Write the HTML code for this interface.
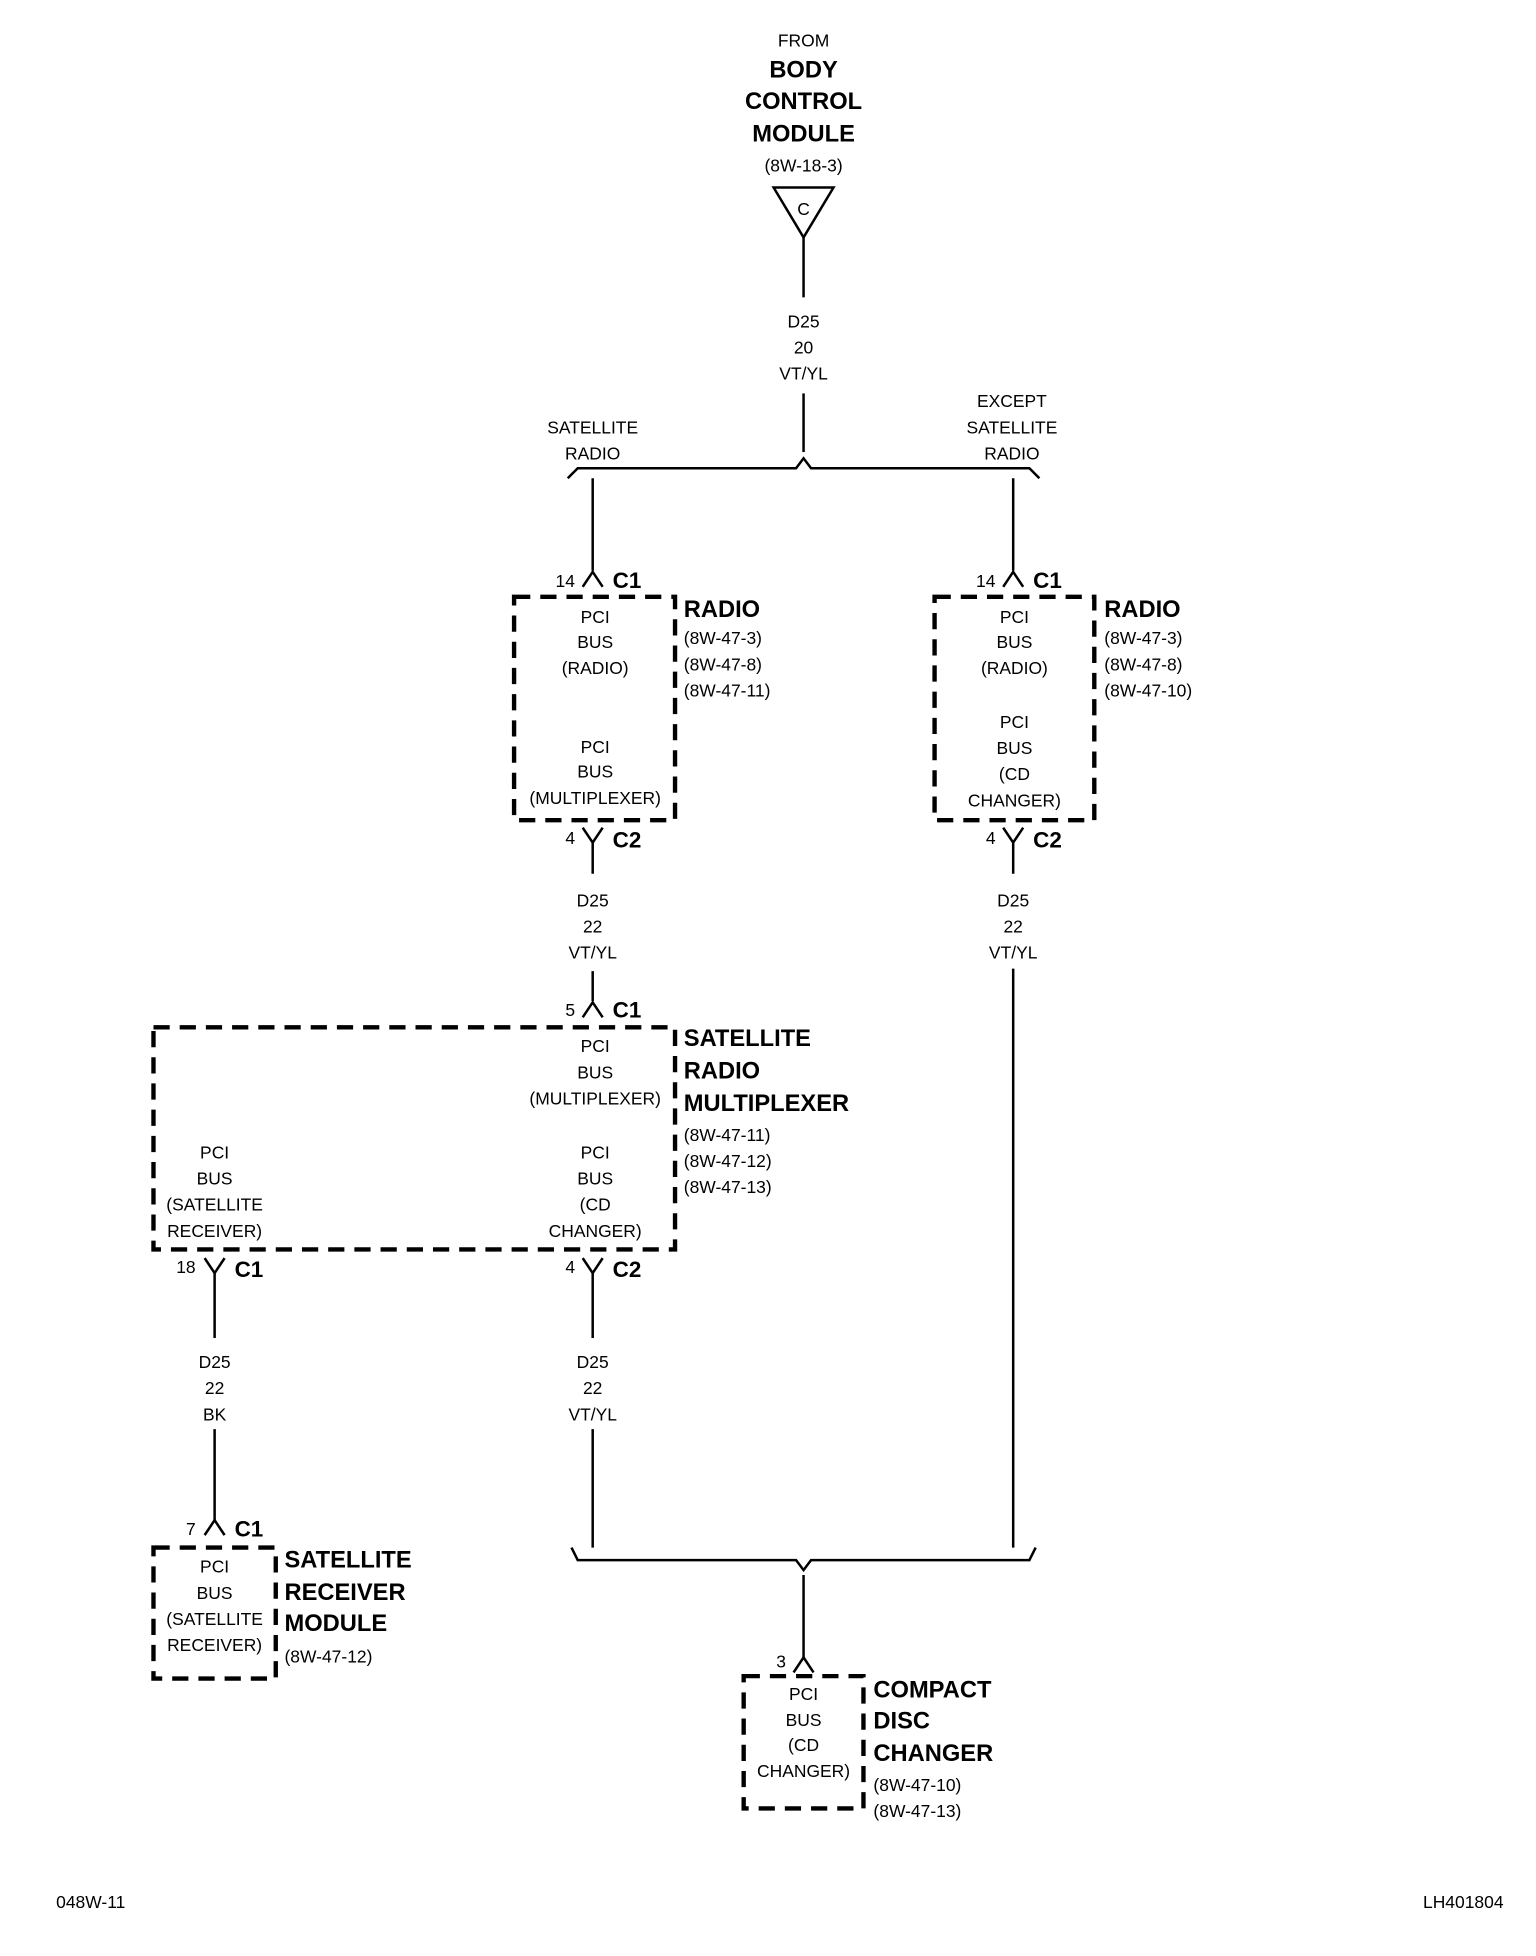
<!DOCTYPE html>
<html><head><meta charset="utf-8"><style>
html,body{margin:0;padding:0;background:#fff}
svg{display:block}
text{font-family:"Liberation Sans",sans-serif;fill:#000}
.n{font-size:14px;text-anchor:middle}
.l{font-size:14px;text-anchor:start}
.b{font-size:19px;font-weight:bold;text-anchor:start}
.bc{font-size:19px;font-weight:bold;text-anchor:middle}
.c{font-size:18px;font-weight:bold;text-anchor:start}
</style></head><body>
<svg width="1536" height="1956" viewBox="0 0 1231 1567" xmlns="http://www.w3.org/2000/svg">
<g stroke="#000" stroke-width="2" fill="none">
<path d="M620 150 L668 150 L644 190 Z"/>
<line x1="644" y1="190" x2="644" y2="238"/>
<line x1="644" y1="315" x2="644" y2="362"/>
<path d="M455 383 L463 375 L638 375 L644 367 L650 375 L825 375 L833 383"/>
<line x1="475" y1="383" x2="475" y2="457"/>
<line x1="812" y1="383" x2="812" y2="457"/>
<path d="M467 470 L475 458 L483 470"/>
<path d="M804 470 L812 458 L820 470"/>
<path d="M467 663 L475 675 L483 663 M475 675 L475 700"/>
<path d="M804 663 L812 675 L820 663 M812 675 L812 700"/>
<line x1="475" y1="778" x2="475" y2="802"/>
<line x1="812" y1="776" x2="812" y2="1240"/>
<path d="M467 815 L475 803 L483 815"/>
<path d="M164 1008 L172 1020 L180 1008 M172 1020 L172 1072"/>
<path d="M467 1008 L475 1020 L483 1008 M475 1020 L475 1072"/>
<line x1="172" y1="1145" x2="172" y2="1218"/>
<path d="M164 1230 L172 1218 L180 1230"/>
<line x1="475" y1="1145" x2="475" y2="1240"/>
<path d="M458 1240 L463 1250 L638 1250 L644 1258 L650 1250 L825 1250 L830 1240"/>
<line x1="644" y1="1262" x2="644" y2="1328"/>
<path d="M636 1340 L644 1328 L652 1340"/>
</g>
<g stroke="#000" stroke-width="3.5" fill="none" stroke-dasharray="13 8">
<rect x="412" y="478" width="129" height="179"/>
<rect x="749" y="478" width="128" height="179"/>
<rect x="123" y="823" width="418" height="178"/>
<rect x="123" y="1240" width="98" height="105"/>
<rect x="596" y="1343" width="96" height="106"/>
</g>
<text class="n" x="644" y="37">FROM</text>
<text class="bc" x="644" y="62">BODY</text>
<text class="bc" x="644" y="87">CONTROL</text>
<text class="bc" x="644" y="113">MODULE</text>
<text class="n" x="644" y="137">(8W-18-3)</text>
<text class="n" x="644" y="172">C</text>
<text class="n" x="644" y="262">D25</text>
<text class="n" x="644" y="283">20</text>
<text class="n" x="644" y="304">VT/YL</text>
<text class="n" x="475" y="347">SATELLITE</text>
<text class="n" x="475" y="368">RADIO</text>
<text class="n" x="811" y="326">EXCEPT</text>
<text class="n" x="811" y="347">SATELLITE</text>
<text class="n" x="811" y="368">RADIO</text>
<text class="n" x="453" y="470">14</text><text class="c" x="491" y="471">C1</text>
<text class="n" x="477" y="499">PCI</text><text class="n" x="477" y="519">BUS</text><text class="n" x="477" y="540">(RADIO)</text>
<text class="n" x="477" y="603">PCI</text><text class="n" x="477" y="623">BUS</text><text class="n" x="477" y="644">(MULTIPLEXER)</text>
<text class="b" x="548" y="494">RADIO</text>
<text class="l" x="548" y="516">(8W-47-3)</text><text class="l" x="548" y="537">(8W-47-8)</text><text class="l" x="548" y="558">(8W-47-11)</text>
<text class="n" x="457" y="676">4</text><text class="c" x="491" y="679">C2</text>
<text class="n" x="475" y="726">D25</text><text class="n" x="475" y="747">22</text><text class="n" x="475" y="768">VT/YL</text>
<text class="n" x="790" y="470">14</text><text class="c" x="828" y="471">C1</text>
<text class="n" x="813" y="499">PCI</text><text class="n" x="813" y="519">BUS</text><text class="n" x="813" y="540">(RADIO)</text>
<text class="n" x="813" y="583">PCI</text><text class="n" x="813" y="604">BUS</text><text class="n" x="813" y="625">(CD</text><text class="n" x="813" y="646">CHANGER)</text>
<text class="b" x="885" y="494">RADIO</text>
<text class="l" x="885" y="516">(8W-47-3)</text><text class="l" x="885" y="537">(8W-47-8)</text><text class="l" x="885" y="558">(8W-47-10)</text>
<text class="n" x="794" y="676">4</text><text class="c" x="828" y="679">C2</text>
<text class="n" x="812" y="726">D25</text><text class="n" x="812" y="747">22</text><text class="n" x="812" y="768">VT/YL</text>
<text class="n" x="457" y="814">5</text><text class="c" x="491" y="815">C1</text>
<text class="n" x="477" y="843">PCI</text><text class="n" x="477" y="864">BUS</text><text class="n" x="477" y="885">(MULTIPLEXER)</text>
<text class="n" x="477" y="928">PCI</text><text class="n" x="477" y="949">BUS</text><text class="n" x="477" y="970">(CD</text><text class="n" x="477" y="991">CHANGER)</text>
<text class="n" x="172" y="928">PCI</text><text class="n" x="172" y="949">BUS</text><text class="n" x="172" y="970">(SATELLITE</text><text class="n" x="172" y="991">RECEIVER)</text>
<text class="b" x="548" y="838">SATELLITE</text><text class="b" x="548" y="864">RADIO</text><text class="b" x="548" y="890">MULTIPLEXER</text>
<text class="l" x="548" y="914">(8W-47-11)</text><text class="l" x="548" y="935">(8W-47-12)</text><text class="l" x="548" y="956">(8W-47-13)</text>
<text class="n" x="149" y="1020">18</text><text class="c" x="188" y="1023">C1</text>
<text class="n" x="457" y="1020">4</text><text class="c" x="491" y="1023">C2</text>
<text class="n" x="172" y="1096">D25</text><text class="n" x="172" y="1117">22</text><text class="n" x="172" y="1138">BK</text>
<text class="n" x="475" y="1096">D25</text><text class="n" x="475" y="1117">22</text><text class="n" x="475" y="1138">VT/YL</text>
<text class="n" x="153" y="1230">7</text><text class="c" x="188" y="1231">C1</text>
<text class="n" x="172" y="1260">PCI</text><text class="n" x="172" y="1281">BUS</text><text class="n" x="172" y="1302">(SATELLITE</text><text class="n" x="172" y="1323">RECEIVER)</text>
<text class="b" x="228" y="1256">SATELLITE</text><text class="b" x="228" y="1282">RECEIVER</text><text class="b" x="228" y="1307">MODULE</text>
<text class="l" x="228" y="1332">(8W-47-12)</text>
<text class="n" x="626" y="1336">3</text>
<text class="n" x="644" y="1362">PCI</text><text class="n" x="644" y="1383">BUS</text><text class="n" x="644" y="1403">(CD</text><text class="n" x="644" y="1424">CHANGER)</text>
<text class="b" x="700" y="1360">COMPACT</text><text class="b" x="700" y="1385">DISC</text><text class="b" x="700" y="1411">CHANGER</text>
<text class="l" x="700" y="1435">(8W-47-10)</text><text class="l" x="700" y="1456">(8W-47-13)</text>
<text class="l" x="45" y="1529">048W-11</text>
<text x="1205" y="1529" style="font-size:14px;text-anchor:end">LH401804</text>
</svg>
</body></html>
